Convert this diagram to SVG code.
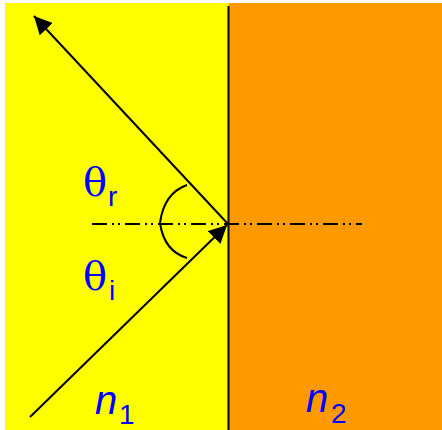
<svg xmlns="http://www.w3.org/2000/svg" width="442" height="430" viewBox="0 0 442 430">
<defs>
<marker id="ah" viewBox="0 0 10 10" refX="10" refY="5" markerWidth="18" markerHeight="18" markerUnits="userSpaceOnUse" orient="auto">
<path d="M0,0 L10,5 L0,10 Z" fill="#000"/>
</marker>
<style>
.lab{fill:#0000ff}
.th{font-family:"DejaVu Serif",serif;font-size:40px}
.sub{font-family:"Liberation Sans",sans-serif;font-size:28px}
.n{font-family:"Liberation Sans",sans-serif;font-style:italic;font-size:40px}
.ln{stroke:#000;stroke-width:2;fill:none}
</style>
</defs>
<rect x="0" y="0" width="442" height="430" fill="#fff"/>
<g id="medium1"><rect x="5" y="3" width="224" height="427" fill="#ffff00"/></g>
<g id="medium2"><rect x="229" y="3" width="213" height="427" fill="#ff9900"/></g>
<g id="connectors">
<line class="ln" x1="228.5" y1="6" x2="228.5" y2="430"/>
<line class="ln" x1="92" y1="224" x2="362" y2="224" stroke-dasharray="15 5 2 4 2 5"/>
<line class="ln" x1="30" y1="417" x2="227" y2="225" marker-end="url(#ah)"/>
<line class="ln" x1="228" y1="224" x2="34" y2="16" marker-end="url(#ah)"/>
<path class="ln" d="M187,185 Q164,193 160,223 Q164,251 187,258"/>
</g>
<g id="labels">
<text class="lab th" x="83" y="196">θ</text><text class="lab sub" x="108" y="206">r</text>
<text class="lab th" x="83" y="290">θ</text><text class="lab sub" x="109" y="300">i</text>
<text class="lab n" x="95" y="414">n</text><text class="lab sub" x="119" y="424">1</text>
<text class="lab n" x="306" y="412">n</text><text class="lab sub" x="331" y="423">2</text>
</g>
</svg>
